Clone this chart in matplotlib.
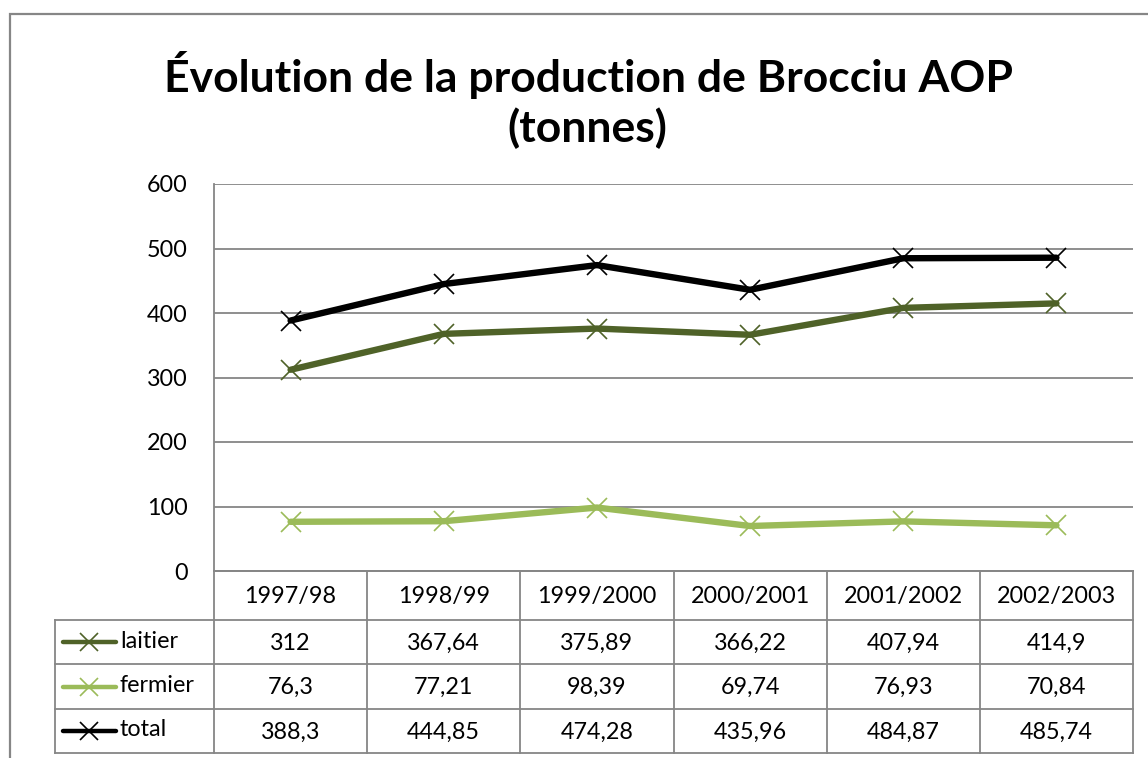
import matplotlib.pyplot as plt
from matplotlib.lines import Line2D

plt.rcParams['font.family'] = ['Lato', 'DejaVu Sans']

saisons = ['1997/98', '1998/99', '1999/2000', '2000/2001', '2001/2002', '2002/2003']
laitier = [312, 367.64, 375.89, 366.22, 407.94, 414.9]
fermier = [76.3, 77.21, 98.39, 69.74, 76.93, 70.84]
total = [388.3, 444.85, 474.28, 435.96, 484.87, 485.74]
series = [('laitier', laitier, '#4f6228'),
          ('fermier', fermier, '#9bbb59'),
          ('total', total, '#000000')]

W, H = 1148, 758
grey = '#868686'
fs = 16.8

fig = plt.figure(figsize=(W / 100, H / 100), dpi=100)

# overlay in pixel units for the frame and data table
ov = fig.add_axes([0, 0, 1, 1])
ov.set_xlim(0, W)
ov.set_ylim(H, 0)
ov.axis('off')

# chart frame (runs off the right and bottom edges)
ov.plot([10, 10, W + 5], [H + 5, 14, 14], color=grey, lw=1.6, solid_joinstyle='miter')

# plot area
x0, x1, y0, y1 = 214, 1133, 184, 571
ax = fig.add_axes([x0 / W, 1 - y1 / H, (x1 - x0) / W, (y1 - y0) / H])
n = len(saisons)
for name, vals, col in series:
    ax.plot(range(n), vals, color=col, lw=4.6, marker='x', ms=14, mew=1.2,
            solid_capstyle='round', zorder=3)
ax.set_xlim(-0.5, n - 0.5)
ax.set_ylim(0, 600)
ax.set_yticks(range(0, 601, 100))
ax.yaxis.grid(True, color=grey, lw=1.3)
ax.set_xticks([])
ax.tick_params(axis='y', length=0, pad=19, labelsize=fs)
for s in ['top', 'right']:
    ax.spines[s].set_visible(False)
for s in ['left', 'bottom']:
    ax.spines[s].set_color(grey)
    ax.spines[s].set_linewidth(1.3)
ax.patch.set_alpha(0)

ov.text(589, 75, 'Évolution de la production de Brocciu AOP',
        ha='center', va='center', fontsize=32, fontweight='bold')
ov.text(587, 128, '(tonnes)',
        ha='center', va='center', fontsize=32, fontweight='bold')

# data table below the plot
colw = (x1 - x0) / n
rows = [571, 620, 664, 709, 753]
leg_x = 55
fmt = lambda v: ('%g' % v).replace('.', ',')

# horizontal rules
ov.plot([x0, x1], [rows[0], rows[0]], color=grey, lw=1.3)
for yy in rows[1:]:
    ov.plot([leg_x, x1], [yy, yy], color=grey, lw=1.3)
# vertical rules
for k in range(n + 1):
    xx = x0 + k * colw
    ov.plot([xx, xx], [rows[0], rows[-1]], color=grey, lw=1.3)
ov.plot([leg_x, leg_x], [rows[1], rows[-1]], color=grey, lw=1.3)

for k, lab in enumerate(saisons):
    ov.text(x0 + (k + 0.5) * colw, (rows[0] + rows[1]) / 2 + 1, lab,
            ha='center', va='center', fontsize=fs)

for r, (name, vals, col) in enumerate(series):
    yc = (rows[r + 1] + rows[r + 2]) / 2
    ov.add_line(Line2D([63, 116], [yc, yc], color=col, lw=3.2, solid_capstyle='round'))
    ov.plot([89], [yc], color=col, marker='x', ms=13, mew=1.2)
    ov.text(120, yc - 1, name, ha='left', va='center', fontsize=fs)
    for k, v in enumerate(vals):
        ov.text(x0 + (k + 0.5) * colw, yc + 1, fmt(v), ha='center', va='center', fontsize=fs)

fig.savefig('out.png', dpi=100)
